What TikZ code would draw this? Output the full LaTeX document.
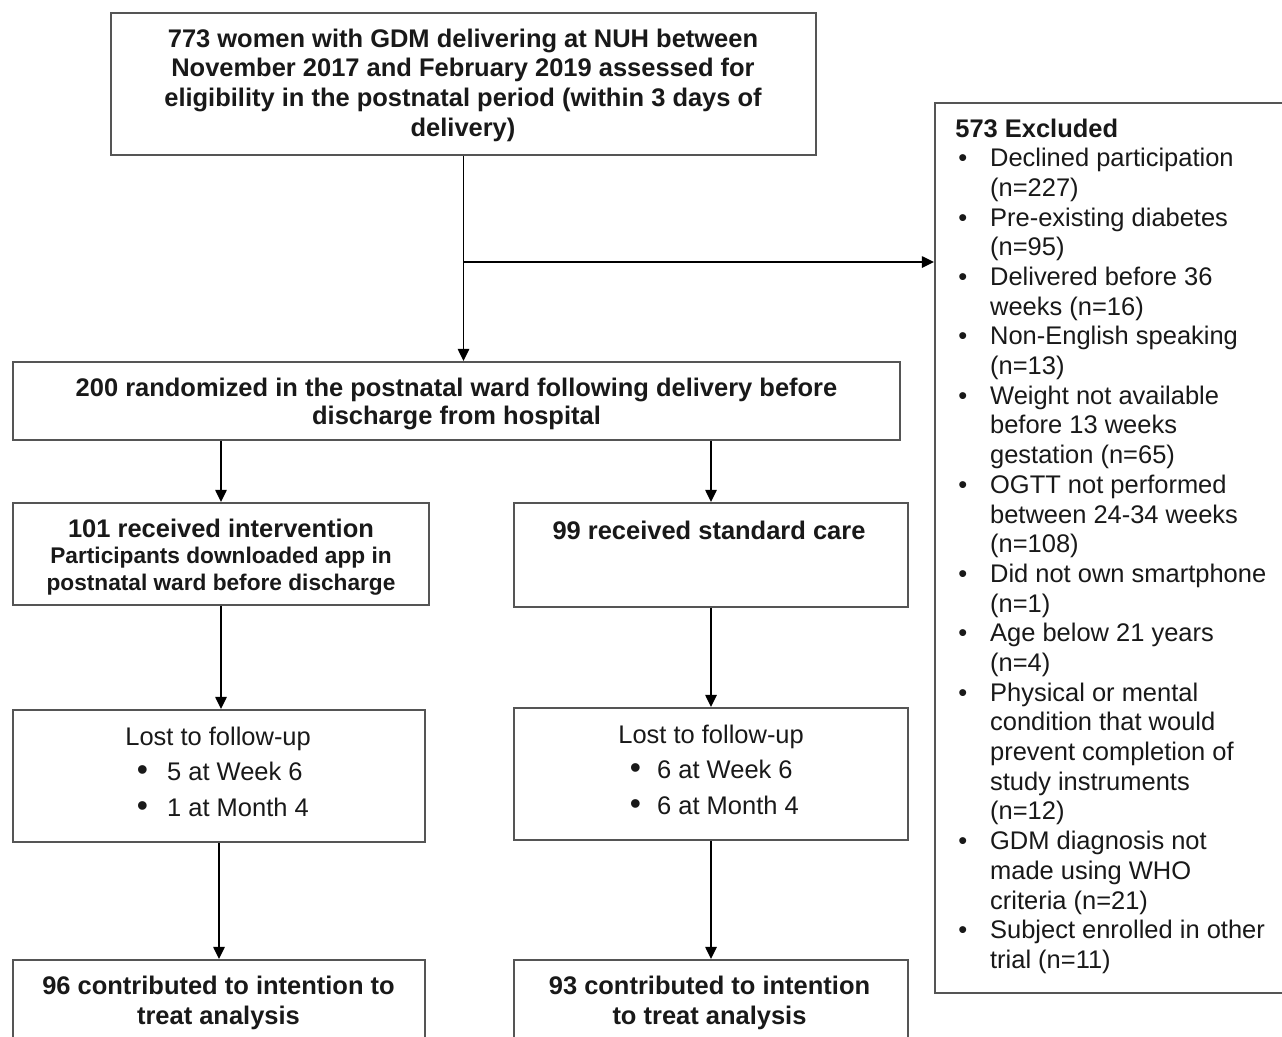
\documentclass[tikz,border=0pt]{standalone}
\usepackage{fontspec}
\setmainfont{Liberation Sans}
\usetikzlibrary{arrows.meta}
\definecolor{boxgray}{RGB}{85,85,85}
\definecolor{txt}{RGB}{25,25,25}
\begin{document}
\begin{tikzpicture}[x=0.02cm,y=-0.02cm,
  box/.style={draw=boxgray, line width=1.1pt, rectangle, inner sep=0pt},
  arr/.style={draw=black, line width=1.1pt, -{Triangle[length=7pt,width=6.5pt]}},
  bt/.style={anchor=base, inner sep=0pt, yshift=-0.18cm, text=txt, font=\fontsize{14.5}{#1}\selectfont\bfseries},
  rt/.style={anchor=base west, inner sep=0pt, yshift=-0.18cm, text=txt, font=\fontsize{14.5}{#1}\selectfont}]
\useasboundingbox (0,0) rectangle (1282,1036);
\clip (0,0) rectangle (1282,1036);
\fill[white] (0,0) rectangle (1282,1036);

% boxes
\node[box, minimum width=14.1cm, minimum height=2.84cm] (top) at (463.5,84) {};
\node[box, minimum width=7.1cm, minimum height=17.8cm] (excl) at (1112.5,548) {};
\node[box, minimum width=17.74cm, minimum height=1.56cm] (rand) at (456.5,401) {};
\node[box, minimum width=8.32cm, minimum height=2.04cm] (interv) at (221,554) {};
\node[box, minimum width=7.88cm, minimum height=2.08cm] (std) at (711,555) {};
\node[box, minimum width=8.24cm, minimum height=2.64cm] (lostl) at (219,776) {};
\node[box, minimum width=7.88cm, minimum height=2.64cm] (lostr) at (711,774) {};
\node[box, minimum width=8.24cm, minimum height=2.4cm] (finl) at (219,1020) {};
\node[box, minimum width=7.88cm, minimum height=2.4cm] (finr) at (711,1020) {};

% texts
\node[bt=17] (topt) at (463,38) {\begin{tabular}[t]{@{}c@{}}773 women with GDM delivering at NUH between\\
November 2017 and February 2019 assessed for\\
eligibility in the postnatal period (within 3 days of\\
delivery)\end{tabular}};
\node[bt=16.4] (randt) at (456.5,387) {\begin{tabular}[t]{@{}c@{}}200 randomized in the postnatal ward following delivery before\\
discharge from hospital\end{tabular}};
\node[bt=15.3] (intervt) at (221,528) {\begin{tabular}[t]{@{}c@{}}101 received intervention\\
\fontsize{12.9}{15.3}\selectfont Participants downloaded app in\\
\fontsize{12.9}{15.3}\selectfont postnatal ward before discharge\end{tabular}};
\node[bt=17] (stdt) at (709,530) {99 received standard care};
\node[rt=20.4] (lostlt) at (125,736) {\begin{tabular}[t]{@{}l@{}}\multicolumn{1}{@{}c@{}}{Lost to follow-up}\\
\makebox[23.8pt][l]{\hspace{6.5pt}\scalebox{1.25}{\textbullet}}5 at Week 6\\
\makebox[23.8pt][l]{\hspace{6.5pt}\scalebox{1.25}{\textbullet}}1 at Month 4\end{tabular}};
\node[rt=20.4] (lostrt) at (618,734) {\begin{tabular}[t]{@{}l@{}}\multicolumn{1}{@{}c@{}}{Lost to follow-up}\\
\makebox[22.1pt][l]{\hspace{6.5pt}\scalebox{1.25}{\textbullet}}6 at Week 6\\
\makebox[22.1pt][l]{\hspace{6.5pt}\scalebox{1.25}{\textbullet}}6 at Month 4\end{tabular}};
\node[bt=17.6] (finlt) at (218.5,985) {\begin{tabular}[t]{@{}c@{}}96 contributed to intention to\\
treat analysis\end{tabular}};
\node[bt=17.6] (finrt) at (709.5,985) {\begin{tabular}[t]{@{}c@{}}93 contributed to intention\\
to treat analysis\end{tabular}};
\node[rt=16.9] (exclt) at (955,128) {\begin{tabular}[t]{@{}p{19.8pt}@{}l@{}}
\multicolumn{2}{@{}l@{}}{\bfseries 573 Excluded}\\
\hspace{1.7pt}\textbullet & Declined participation\\
 & (n=227)\\
\hspace{1.7pt}\textbullet & Pre-existing diabetes\\
 & (n=95)\\
\hspace{1.7pt}\textbullet & Delivered before 36\\
 & weeks (n=16)\\
\hspace{1.7pt}\textbullet & Non-English speaking\\
 & (n=13)\\
\hspace{1.7pt}\textbullet & Weight not available\\
 & before 13 weeks\\
 & gestation (n=65)\\
\hspace{1.7pt}\textbullet & OGTT not performed\\
 & between 24-34 weeks\\
 & (n=108)\\
\hspace{1.7pt}\textbullet & Did not own smartphone\\
 & (n=1)\\
\hspace{1.7pt}\textbullet & Age below 21 years\\
 & (n=4)\\
\hspace{1.7pt}\textbullet & Physical or mental\\
 & condition that would\\
 & prevent completion of\\
 & study instruments\\
 & (n=12)\\
\hspace{1.7pt}\textbullet & GDM diagnosis not\\
 & made using WHO\\
 & criteria (n=21)\\
\hspace{1.7pt}\textbullet & Subject enrolled in other\\
 & trial (n=11)
\end{tabular}};

% connectors
\coordinate (br) at (463.5,262);
\draw[arr] (top.south) -- (top.south |- rand.north);
\draw[arr] (br) -- (br -| excl.west);
\draw[arr] (rand.south -| interv.north) -- (interv.north);
\draw[arr] (rand.south -| std.north) -- (std.north);
\draw[arr] (interv.south) -- (interv.south |- lostl.north);
\draw[arr] (std.south) -- (std.south |- lostr.north);
\draw[arr] (lostl.south) -- (lostl.south |- finl.north);
\draw[arr] (lostr.south) -- (lostr.south |- finr.north);
\end{tikzpicture}
\end{document}
